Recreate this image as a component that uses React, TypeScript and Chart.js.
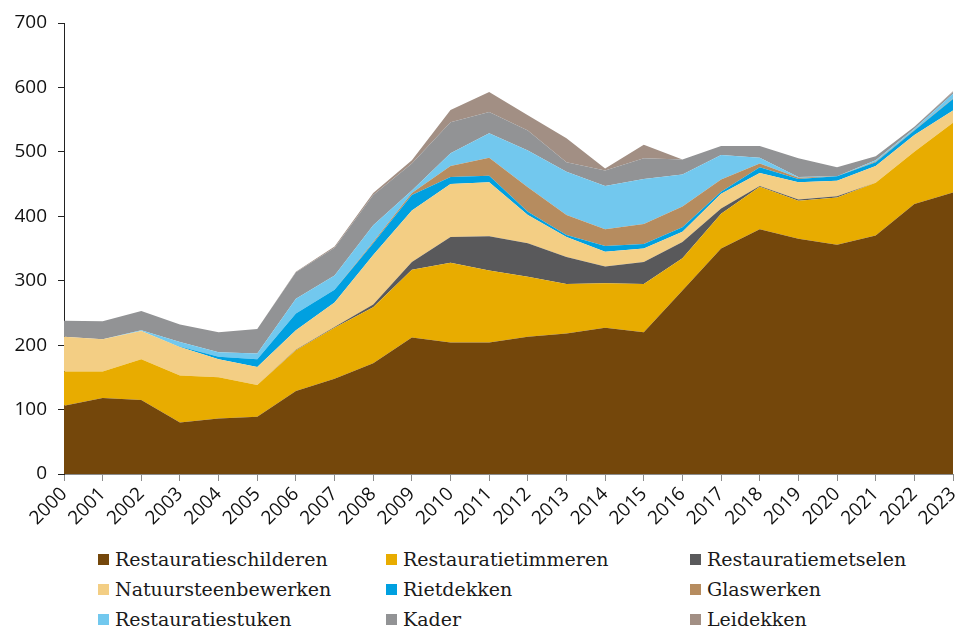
import React, { useEffect, useRef } from "react";
import { Chart, registerables } from "chart.js";

Chart.register(...registerables);

const years = ["2000","2001","2002","2003","2004","2005","2006","2007","2008","2009","2010","2011","2012","2013","2014","2015","2016","2017","2018","2019","2020","2021","2022","2023"];

const restauratieschilderen = [106,118,115,80,86,89,129,148,172,212,204,204,213,218,227,220,285,350,380,365,356,370,419,437];
const restauratietimmeren = [53,41,63,73,64,49,63,79,87,105,124,112,93,77,69,75,50,54,66,59,73,82,81,108];
const restauratiemetselen = [0,0,0,0,0,0,1,1,4,12,40,53,52,42,26,34,25,8,1,2,2,0,0,0];
const natuursteenbewerken = [54,50,44,44,28,28,30,38,77,80,82,84,44,31,23,21,16,23,20,27,24,26,26,19];
const rietdekken = [0,0,0,1,4,12,26,20,18,24,11,10,5,3,9,7,7,3,9,5,7,6,7,18];
const glaswerken = [0,0,0,0,0,0,0,0,2,3,17,28,38,31,26,31,32,19,6,2,0,1,1,1];
const restauratiestuken = [0,0,1,7,7,9,23,22,26,4,20,38,57,67,67,70,50,38,9,1,0,2,2,7];
const kader = [25,28,30,27,31,38,41,43,47,42,48,33,31,15,24,32,23,14,18,29,14,6,3,3];
const leidekken = [0,0,0,0,0,0,1,2,3,5,19,31,24,37,3,21,0,0,0,0,0,0,0,1];

const yTicks = [0,100,200,300,400,500,600,700];

const series = [
  { label: "Restauratieschilderen", data: restauratieschilderen, color: "#74470B" },
  { label: "Restauratietimmeren", data: restauratietimmeren, color: "#E8AC00" },
  { label: "Restauratiemetselen", data: restauratiemetselen, color: "#59595B" },
  { label: "Natuursteenbewerken", data: natuursteenbewerken, color: "#F3CE84" },
  { label: "Rietdekken", data: rietdekken, color: "#00A0E0" },
  { label: "Glaswerken", data: glaswerken, color: "#B68C5F" },
  { label: "Restauratiestuken", data: restauratiestuken, color: "#72C8EE" },
  { label: "Kader", data: kader, color: "#929395" },
  { label: "Leidekken", data: leidekken, color: "#A28F84" },
];

const legendOrder = [0,1,2,3,4,5,6,7,8];
const legendCols = [98, 386, 690];

export default function App() {
  const ref = useRef<HTMLCanvasElement | null>(null);

  useEffect(() => {
    if (!ref.current) return;
    const chart = new Chart(ref.current, {
      type: "line",
      data: {
        labels: years,
        datasets: series.map((s, i) => ({
          label: s.label,
          data: s.data,
          backgroundColor: s.color,
          borderColor: s.color,
          borderWidth: 0,
          pointRadius: 0,
          pointHoverRadius: 0,
          tension: 0,
          fill: i === 0 ? "origin" : "-1",
        })),
      },
      options: {
        animation: false,
        responsive: false,
        maintainAspectRatio: false,
        layout: { padding: { top: 23, right: 5, left: 0, bottom: 0 } },
        plugins: { legend: { display: false }, tooltip: { enabled: false } },
        scales: {
          x: {
            type: "category",
            offset: false,
            grid: { display: true, drawOnChartArea: false, drawTicks: true, tickLength: 7, color: "#8c8c8c" },
            border: { display: true, color: "#8c8c8c", width: 1 },
            ticks: {
              autoSkip: false,
              maxRotation: 45,
              minRotation: 45,
              padding: 2,
              color: "#111",
              font: { family: "'Open Sans', 'DejaVu Sans', sans-serif", size: 19 },
            },
            afterFit: (scale: any) => {
              scale.height = 66;
              scale.paddingRight = 0;
              scale.paddingLeft = 0;
            },
          },
          y: {
            stacked: true,
            min: 0,
            max: 700,
            afterBuildTicks: (scale: any) => { scale.ticks = yTicks.map((v) => ({ value: v })); },
            grid: { display: true, drawOnChartArea: false, drawTicks: true, tickLength: 6, color: "#222" },
            border: { display: true, color: "#222", width: 1 },
            ticks: {
              padding: 11,
              color: "#111",
              font: { family: "'Open Sans', 'DejaVu Sans', sans-serif", size: 19 },
            },
            afterFit: (scale: any) => {
              scale.width = 64;
              scale.paddingTop = 0;
              scale.paddingBottom = 0;
            },
          },
        },
      },
    });
    return () => chart.destroy();
  }, []);

  return (
    <div style={{ position: "absolute", left: 0, top: 0, width: 958, height: 630, background: "#fff", overflow: "hidden" }}>
      <canvas ref={ref} width={958} height={540} style={{ position: "absolute", left: 0, top: 0, width: 958, height: 540 }} />
      {legendOrder.map((idx, k) => {
        const s = series[idx];
        const col = k % 3;
        const row = Math.floor(k / 3);
        return (
          <div
            key={s.label}
            style={{
              position: "absolute",
              left: legendCols[col],
              top: 546 + row * 30,
              height: 26,
              display: "flex",
              alignItems: "center",
              fontFamily: "'DejaVu Serif', serif",
              fontSize: 19,
              color: "#1a1a1a",
              whiteSpace: "nowrap",
            }}
          >
            <span style={{ display: "inline-block", width: 11, height: 11, background: s.color, marginRight: 6 }} />
            <span>{s.label}</span>
          </div>
        );
      })}
    </div>
  );
}
